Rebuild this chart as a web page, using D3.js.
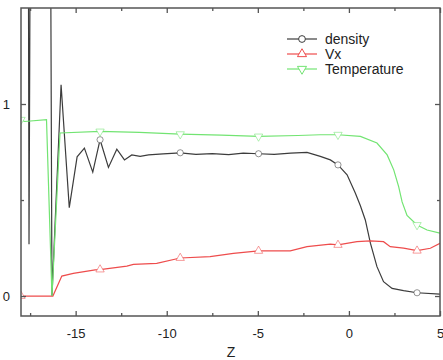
<!DOCTYPE html>
<html>
<head>
<meta charset="utf-8">
<script src="https://cdn.jsdelivr.net/npm/d3@7"></script>
<style>
  body { margin: 0; background: #fff; }
  text { font-family: "Liberation Sans", Arial, sans-serif; fill: #222; }
</style>
</head>
<body>
<div id="chart"></div>
<script>
// ---- data ----
var densityZ = [-18, -17.62, -17.56, -17.45, -16.42, -16.3, -15.8, -15.35, -14.92, -14.52, -14.06, -13.66, -13.2, -12.74, -12.32, -11.92, -11.46, -11.0, -10.2, -9.26, -8.4, -7.5, -6.6, -5.8, -4.96, -4.1, -3.2, -2.3, -1.57, -1.02, -0.6, -0.1, 0.35, 0.63, 0.9, 1.18, 1.54, 1.9, 2.37, 3.0, 3.74, 5];
var density  = [3, 3, 0.27, 3, 3, 0, 1.10, 0.46, 0.725, 0.77, 0.645, 0.814, 0.67, 0.765, 0.709, 0.735, 0.727, 0.735, 0.74, 0.746, 0.738, 0.742, 0.736, 0.744, 0.741, 0.738, 0.744, 0.748, 0.727, 0.709, 0.683, 0.631, 0.536, 0.47, 0.396, 0.275, 0.153, 0.075, 0.04, 0.028, 0.017, 0.01];

var vxZ = [-18, -16.25, -15.76, -15.13, -13.93, -13.66, -12.19, -11.83, -10.55, -9.26, -7.62, -6.34, -4.96, -3.22, -2.3, -1.02, -0.6, 0.44, 1.18, 1.9, 2.27, 3.0, 3.74, 4.47, 5];
var vx  = [0, 0, 0.104, 0.118, 0.136, 0.138, 0.156, 0.165, 0.17, 0.198, 0.205, 0.222, 0.235, 0.235, 0.257, 0.27, 0.266, 0.283, 0.287, 0.283, 0.257, 0.249, 0.236, 0.249, 0.275];

var tempZ = [-18, -17.8, -16.6, -16.3, -15.86, -13.66, -11.5, -9.26, -7.0, -4.96, -2.8, -1.57, -0.6, 0.63, 1.54, 2.1, 2.46, 2.73, 2.92, 3.19, 3.74, 4.29, 5];
var temp  = [0.918, 0.909, 0.918, 0, 0.849, 0.857, 0.852, 0.843, 0.838, 0.831, 0.836, 0.84, 0.84, 0.831, 0.797, 0.735, 0.657, 0.57, 0.49, 0.42, 0.37, 0.344, 0.327];

var markerZ = [-18, -13.66, -9.26, -4.96, -0.6, 3.74];

var xMajor = [-15, -10, -5, 0, 5];
var xMinor = [-17.5, -12.5, -7.5, -2.5, 2.5];
var yMajor = [0, 1];
var yMinor = [0.5];

var seriesNames = ["density", "Vx", "Temperature"];
var seriesColors = ["#3c3c3c", "#ee4c4c", "#72e472"];
var seriesSymbols = [d3.symbolCircle, d3.symbolTriangle, "down"];

// ---- layout ----
var width = 443, height = 360;
var margin = {top: 8, right: 3, bottom: 44, left: 21};
var w = width - margin.left - margin.right;
var h = height - margin.top - margin.bottom;

var svg = d3.select("#chart").append("svg")
    .attr("width", width)
    .attr("height", height);

var g = svg.append("g")
    .attr("transform", "translate(" + margin.left + "," + margin.top + ")");

var x = d3.scaleLinear().domain([-18, 5]).range([0, w]);
var y = d3.scaleLinear().domain([-0.104, 1.5]).range([h, 0]);

g.append("clipPath").attr("id", "clip")
    .append("rect").attr("width", w).attr("height", h);

function zip(zs, vs) {
    return zs.map(function(z, i) { return {z: z, v: vs[i]}; });
}

var series = [zip(densityZ, density), zip(vxZ, vx), zip(tempZ, temp)];

var line = d3.line()
    .x(function(d) { return x(d.z); })
    .y(function(d) { return y(d.v); });

var plot = g.append("g").attr("clip-path", "url(#clip)");

series.forEach(function(data, i) {
    plot.append("path")
        .datum(data)
        .attr("fill", "none")
        .attr("stroke", seriesColors[i])
        .attr("stroke-width", 1.2)
        .attr("d", line);
});

function symbolPath(s, size) {
    if (s === "down") {
        return d3.symbol().type(d3.symbolTriangle).size(size)();
    }
    return d3.symbol().type(s).size(size)();
}

series.forEach(function(data, i) {
    var pts = data.filter(function(d) { return markerZ.indexOf(d.z) >= 0; });
    plot.selectAll(".m" + i)
        .data(pts)
        .enter().append("path")
        .attr("class", "m" + i)
        .attr("d", symbolPath(seriesSymbols[i], 30))
        .attr("transform", function(d) {
            return "translate(" + x(d.z) + "," + y(d.v) + ")" + (seriesSymbols[i] === "down" ? " rotate(180)" : "");
        })
        .attr("fill", "#fff")
        .attr("stroke", seriesColors[i])
        .attr("stroke-opacity", 0.55)
        .attr("stroke-width", 1);
});

// ---- frame and ticks (inward, all four sides) ----
var frameColor = "#555";
g.append("rect")
    .attr("width", w).attr("height", h)
    .attr("fill", "none")
    .attr("stroke", frameColor)
    .attr("stroke-width", 1.5);

var axB = g.append("g").attr("transform", "translate(0," + h + ")")
    .call(d3.axisBottom(x).tickValues(xMajor).tickSize(-5).tickPadding(13).tickFormat(d3.format("d")));
g.append("g").attr("transform", "translate(0," + h + ")")
    .call(d3.axisBottom(x).tickValues(xMinor).tickSize(-3).tickFormat(""));
g.append("g")
    .call(d3.axisTop(x).tickValues(xMajor).tickSize(-5).tickFormat(""));
g.append("g")
    .call(d3.axisTop(x).tickValues(xMinor).tickSize(-3).tickFormat(""));
g.append("g")
    .call(d3.axisLeft(y).tickValues(yMajor).tickSize(-5).tickPadding(11).tickFormat(d3.format("d")));
g.append("g")
    .call(d3.axisLeft(y).tickValues(yMinor).tickSize(-3).tickFormat(""));
g.append("g").attr("transform", "translate(" + w + ",0)")
    .call(d3.axisRight(y).tickValues(yMajor).tickSize(-5).tickFormat(""));
g.append("g").attr("transform", "translate(" + w + ",0)")
    .call(d3.axisRight(y).tickValues(yMinor).tickSize(-3).tickFormat(""));

g.selectAll(".domain").remove();
g.selectAll(".tick line").attr("stroke", frameColor).attr("stroke-width", 1.3);
g.selectAll(".tick text")
    .style("font-family", "'Liberation Sans', Arial, sans-serif")
    .style("font-size", "13px")
    .attr("fill", "#222");
// plain hyphen minus like the original
axB.selectAll(".tick text").text(function(d) { return String(d); });

// axis title
svg.append("text")
    .attr("x", 231)
    .attr("y", 357)
    .attr("text-anchor", "middle")
    .style("font-size", "14px")
    .text("Z");

// ---- legend ----
var legend = svg.append("g").attr("transform", "translate(287,39)");
seriesNames.forEach(function(name, i) {
    var row = legend.append("g").attr("transform", "translate(0," + (i * 15) + ")");
    row.append("line")
        .attr("x1", 0).attr("x2", 30)
        .attr("stroke", seriesColors[i]).attr("stroke-width", 1.2);
    row.append("path")
        .attr("d", symbolPath(seriesSymbols[i], 36))
        .attr("transform", "translate(15,0)" + (seriesSymbols[i] === "down" ? " rotate(180)" : ""))
        .attr("fill", "#fff")
        .attr("stroke", seriesColors[i])
        .attr("stroke-width", 1);
    row.append("text")
        .attr("x", 38).attr("y", 5)
        .style("font-size", "14px")
        .text(name);
});
</script>
</body>
</html>
